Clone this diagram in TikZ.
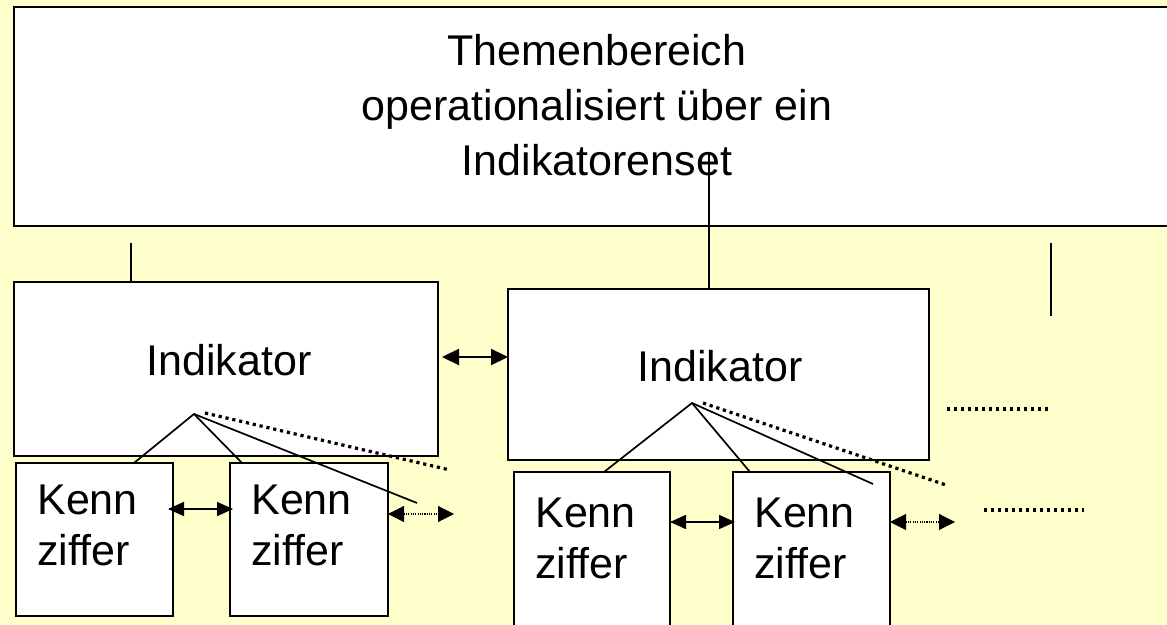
\documentclass[tikz,border=0pt]{standalone}
\usepackage{fontspec}
\setmainfont[Ligatures=NoCommon]{Liberation Sans}
\definecolor{hellgelb}{RGB}{255,255,204}
\usetikzlibrary{arrows.meta,calc,positioning}
\tikzstyle{kasten}=[draw, fill=white, line width=1pt,
                    inner sep=0pt, outer sep=0pt, anchor=north west]
\tikzstyle{schrift}=[font=\fontsize{21.5}{25.5}\selectfont, inner sep=0pt]
\tikzstyle{linie} =[line width=0.85pt]
\tikzstyle{punkte}=[line width=1.6pt, dash pattern=on 1.6pt off 1.9pt]
\tikzstyle{pfeil} =[<->, >={Triangle[length=8.5pt,width=8pt]}, line width=1.1pt]
\tikzstyle{kpfeil}=[<->, >={Triangle[length=8pt,width=7pt]}, line width=0.8pt]
\tikzstyle{ppfeil}=[<->, >={Triangle[length=8pt,width=8pt]}, line width=0.55pt,
                    dash pattern=on 0.55pt off 0.6pt]

\begin{document}
\begin{tikzpicture}[x=0.5pt,y=-0.5pt]
    \useasboundingbox (0,0) rectangle (1167,625);
    \fill[hellgelb] (0,0) rectangle (1167,625);

    % Themenbereich
    \draw (14,7) node(thema)[kasten, minimum width=583pt, minimum height=109.5pt]{};
    \draw (597,105.5) node(thematext)[schrift, align=center,
        font=\fontsize{21.5}{27.5}\selectfont]{Themenbereich\\operationalisiert über ein\\Indikatorenset};

    % Indikatoren
    \draw (14,282) node(ind1)[kasten, minimum width=212pt, minimum height=87pt]{};
    \draw (508,289) node(ind2)[kasten, minimum width=210.5pt, minimum height=85.5pt]{};
    \draw ([xshift=1.5pt,yshift=4.5pt]ind1.center) node(indt1)[schrift]{Indikator};
    \draw ([xshift=0.75pt,yshift=4.25pt]ind2.center) node(indt2)[schrift]{Indikator};

    % senkrechte Striche
    \coordinate (v1) at (131,243);
    \coordinate (v2) at (709,153);
    \coordinate (v3o) at (1051,243);
    \coordinate (v3u) at (1051,316);
    \draw[linie] (v1) -- (v1 |- ind1.north);
    \draw[linie] (v2) -- (v2 |- ind2.north);
    \draw[linie] (v3o) -- (v3u);

    % Kennziffern
    \foreach \i/\x/\y/\w/\h/\ty in {1/16/463/78.5/76.5/11, 2/230/463/79/76.5/11,
                                  3/514/472/78/89/13, 4/733/472/78.5/89/13}
    {
        \draw (\x,\y) node(kz\i)[kasten, minimum width=\w pt, minimum height=\h pt]{};
        \draw ([xshift=10.5pt,yshift=-\ty pt]kz\i.north west) node(kzt\i)[schrift,
            anchor=north west, align=left]{Kenn\\ziffer};
    }

    % Pfeile
    \coordinate (ip) at ([xshift=2pt,yshift=-37.5pt]ind1.north east);
    \draw[pfeil] (ip) -- (ip -| ind2.west);
    \draw[kpfeil] ([xshift=-2.5pt,yshift=-23pt]kz1.north east) -- ([xshift=1.5pt,yshift=-23pt]kz2.north west);
    \draw[kpfeil] ([yshift=-25pt]kz3.north east) -- ([xshift=1pt,yshift=-25pt]kz4.north west);
    \coordinate (pe1) at ([xshift=33pt,yshift=-25.5pt]kz2.north east);
    \coordinate (pe2) at ([xshift=32.5pt,yshift=-25pt]kz4.north east);
    \draw[ppfeil] ([yshift=-25.5pt]kz2.north east) -- (pe1);
    \draw[ppfeil] ([yshift=-25pt]kz4.north east) -- (pe2);

    % Verzweigungen
    \coordinate (sp1) at (194,414);
    \coordinate (sp1b) at (205,413);
    \coordinate (f1) at (417,503);
    \coordinate (d1) at (450,470);
    \coordinate (sp2) at (692,403);
    \coordinate (sp2b) at (703,403);
    \coordinate (f2) at (873,484);
    \coordinate (d2) at (946,485);
    \draw[linie] ([xshift=59pt]kz1.north west) -- (sp1) -- ([xshift=6pt]kz2.north west);
    \draw[linie] (sp1) -- (f1);
    \draw[punkte] (sp1b) -- (d1);
    \draw[linie] ([xshift=45pt]kz3.north west) -- (sp2) -- ([xshift=8.5pt]kz4.north west);
    \draw[linie] (sp2) -- (f2);
    \draw[punkte] (sp2b) -- (d2);

    % weitere
    \coordinate (w1a) at (947,409);
    \coordinate (w1b) at (1050,409);
    \coordinate (w2a) at (984,510);
    \coordinate (w2b) at (1084,510);
    \draw[punkte] (w1a) -- (w1b);
    \draw[punkte] (w2a) -- (w2b);
\end{tikzpicture}
\end{document}
